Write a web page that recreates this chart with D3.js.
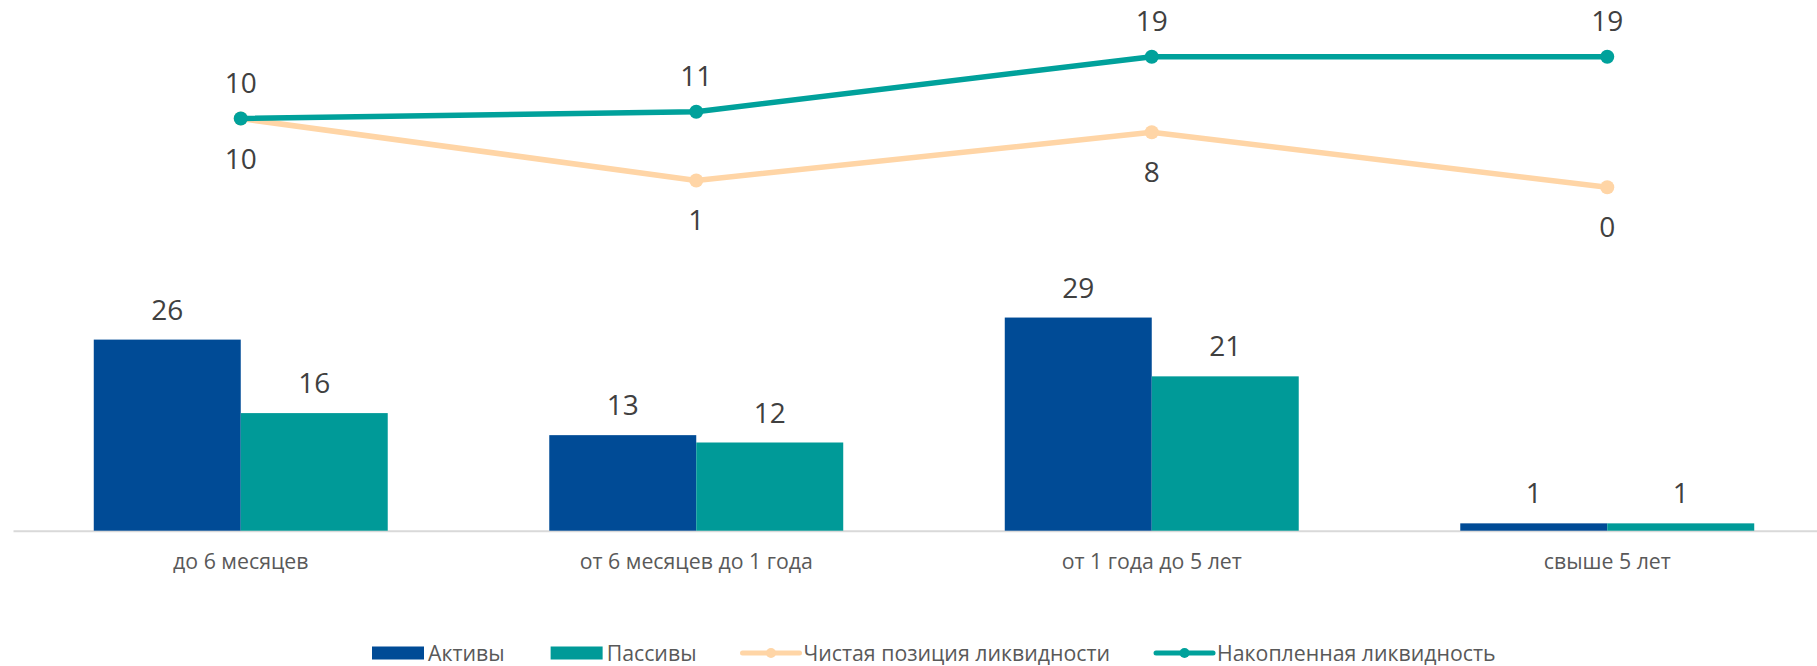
<!DOCTYPE html>
<html>
<head>
<meta charset="utf-8">
<script src="https://cdn.jsdelivr.net/npm/d3@7"></script>
<style>
html,body{margin:0;padding:0;background:#fff;}
svg{display:block;font-family:"Open Sans",sans-serif;}
</style>
</head>
<body>
<svg id="chart" width="1817" height="666"></svg>
<script>
const categories = ["до 6 месяцев", "от 6 месяцев до 1 года", "от 1 года до 5 лет", "свыше 5 лет"];
const assets = [26, 13, 29, 1];
const liabilities = [16, 12, 21, 1];
const netPosition = [10, 1, 8, 0];
const cumulative = [10, 11, 19, 19];
const seriesNames = ["Активы", "Пассивы", "Чистая позиция ликвидности", "Накопленная ликвидность"];
const colors = {assets: "#004B96", liabilities: "#009A98", net: "#FFD5A6", cum: "#00A19B"};

const svg = d3.select("#chart");

const x = d3.scaleBand().domain(categories).range([13, 1835]).padding(0);
const xi = d3.scaleBand().domain(["a", "l"]).range([0, x.bandwidth()]).paddingInner(0).paddingOuter(0.5495);
const yBar = d3.scaleLinear().domain([0, 30]).range([530.7, 310.2]);
const yLine = d3.scaleLinear().domain([0, 19]).range([187.3, 56.7]);

// axis line
const axis = d3.axisBottom(x).tickSize(0).tickPadding(0);
const gAxis = svg.append("g").attr("transform", `translate(0,${yBar(0)})`).call(axis);
gAxis.select(".domain").attr("stroke", "#d9d9d9").attr("stroke-width", 2);
gAxis.selectAll(".tick text")
  .attr("font-size", 21.3).attr("fill", "#595959")
  .attr("font-family", "Open Sans, sans-serif")
  .attr("dy", 0).attr("y", 38.5);

// bars
const barData = [];
categories.forEach((c, i) => {
  barData.push({cat: c, key: "a", v: assets[i], color: colors.assets});
  barData.push({cat: c, key: "l", v: liabilities[i], color: colors.liabilities});
});
svg.append("g").selectAll("rect").data(barData).join("rect")
  .attr("x", d => x(d.cat) + xi(d.key))
  .attr("width", xi.bandwidth())
  .attr("y", d => yBar(d.v))
  .attr("height", d => yBar(0) - yBar(d.v))
  .attr("fill", d => d.color);

svg.append("g").selectAll("text").data(barData).join("text")
  .attr("x", d => x(d.cat) + xi(d.key) + xi.bandwidth() / 2)
  .attr("y", d => yBar(d.v) - 20)
  .attr("text-anchor", "middle")
  .attr("font-size", 28).attr("fill", "#404040")
  .text(d => d.v);

// lines
const cx = c => x(c) + x.bandwidth() / 2;
function drawLine(vals, color) {
  const pts = vals.map((v, i) => ({c: categories[i], v}));
  const line = d3.line().x(d => cx(d.c)).y(d => yLine(d.v));
  svg.append("path").datum(pts).attr("d", line)
    .attr("fill", "none").attr("stroke", color).attr("stroke-width", 5.5)
    .attr("stroke-linejoin", "round");
  svg.append("g").selectAll("circle").data(pts).join("circle")
    .attr("cx", d => cx(d.c)).attr("cy", d => yLine(d.v)).attr("r", 7)
    .attr("fill", color);
  return pts;
}
const netPts = drawLine(netPosition, colors.net);
const cumPts = drawLine(cumulative, colors.cum);

svg.append("g").selectAll("text").data(cumPts).join("text")
  .attr("x", d => cx(d.c)).attr("y", d => yLine(d.v) - 26)
  .attr("text-anchor", "middle").attr("font-size", 28).attr("fill", "#404040")
  .text(d => d.v);
svg.append("g").selectAll("text").data(netPts).join("text")
  .attr("x", d => cx(d.c)).attr("y", d => yLine(d.v) + 50)
  .attr("text-anchor", "middle").attr("font-size", 28).attr("fill", "#404040")
  .text(d => d.v);

// legend
const legend = svg.append("g");
const ly = 653;
let lx = 372;
const items = [
  {name: seriesNames[0], type: "rect", color: colors.assets},
  {name: seriesNames[1], type: "rect", color: colors.liabilities},
  {name: seriesNames[2], type: "line", color: colors.net},
  {name: seriesNames[3], type: "line", color: colors.cum}
];
items.forEach(it => {
  const g = legend.append("g");
  let sw;
  if (it.type === "rect") {
    sw = 52;
    g.append("rect").attr("x", lx).attr("y", ly - 6.5).attr("width", sw).attr("height", 13).attr("fill", it.color);
  } else {
    sw = 57;
    g.append("line").attr("x1", lx).attr("x2", lx + sw).attr("y1", ly).attr("y2", ly)
      .attr("stroke", it.color).attr("stroke-width", 5).attr("stroke-linecap", "round");
    g.append("circle").attr("cx", lx + sw / 2).attr("cy", ly).attr("r", 5).attr("fill", it.color);
  }
  const t = g.append("text").attr("x", lx + sw + 4).attr("y", ly + 7.5)
    .attr("font-size", 21.3).attr("fill", "#595959").text(it.name);
  const tw = t.node().getComputedTextLength();
  lx = lx + sw + 4 + tw + 46;
});
</script>
</body>
</html>
